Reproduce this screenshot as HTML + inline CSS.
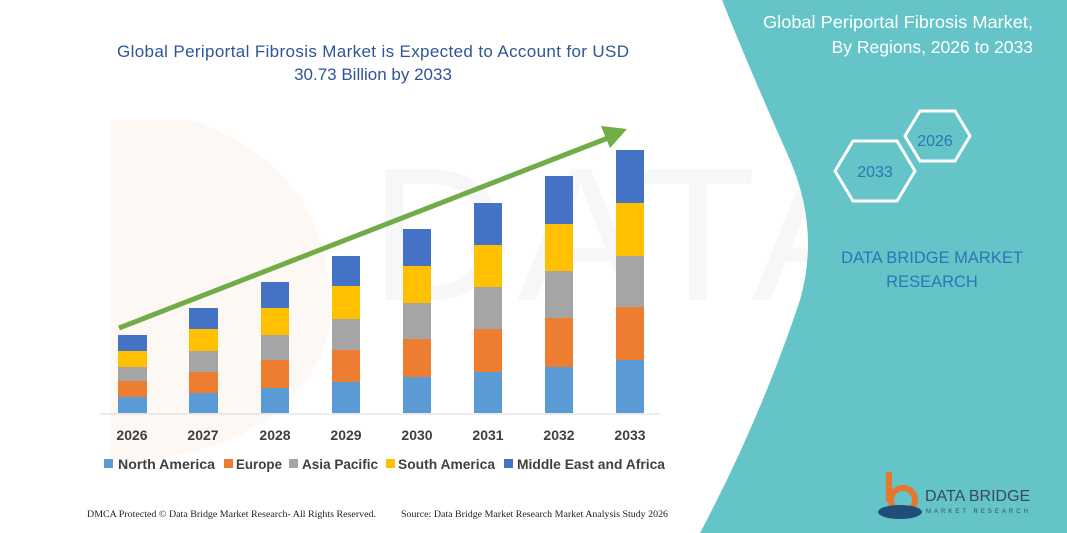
<!DOCTYPE html>
<html><head><meta charset="utf-8"><style>
html,body{margin:0;padding:0;background:#fff}
svg{display:block}
text{font-family:"Liberation Sans",sans-serif}
</style></head><body>
<svg width="1067" height="533" viewBox="0 0 1067 533" xmlns="http://www.w3.org/2000/svg">
<rect width="1067" height="533" fill="#fff"/>
<path d="M110 120 L190 120 Q340 170 330 330 Q300 440 150 460 L110 460 Z" fill="#fdf4ef" opacity="0.6"/>
<text x="370" y="300" font-size="190" fill="#f7f7f7" letter-spacing="10">DATA BRIDGE</text>
<path d="M722 0 L1067 0 L1067 533 L700 533 Q760 420 800 300 Q820 230 790 160 Q750 70 722 0 Z" fill="#64c4c7"/>
<text x="1033" y="28" font-size="17.5" fill="#fff" text-anchor="end" textLength="270" lengthAdjust="spacingAndGlyphs">Global Periportal Fibrosis Market,</text>
<text x="1033" y="53" font-size="17.5" fill="#fff" text-anchor="end">By Regions, 2026 to 2033</text>
<polygon points="835,171 853,141 897,141 915,171 897,201 853,201" fill="none" stroke="#fff" stroke-width="3"/>
<polygon points="905,136 920,111 955,111 970,136 955,161 920,161" fill="none" stroke="#fff" stroke-width="3"/>
<text x="875" y="177" font-size="16" fill="#2e75b6" text-anchor="middle">2033</text>
<text x="935" y="146" font-size="16" fill="#2e75b6" text-anchor="middle">2026</text>
<text x="932" y="263" font-size="16.5" fill="#2e75b6" text-anchor="middle">DATA BRIDGE MARKET</text>
<text x="932" y="287" font-size="16.5" fill="#2e75b6" text-anchor="middle">RESEARCH</text>
<rect x="886" y="472" width="6" height="30" fill="#e8772e"/>
<circle cx="903" cy="500" r="12" fill="none" stroke="#e8772e" stroke-width="6"/>
<ellipse cx="900" cy="512" rx="22" ry="7" fill="#1f4e79"/>
<text x="925" y="501" font-size="16" fill="#3a4a5a">DATA BRIDGE</text>
<text x="926" y="513" font-size="6" fill="#3a4a5a" letter-spacing="3">MARKET RESEARCH</text>
<text x="373" y="57" font-size="17" fill="#2e5597" text-anchor="middle" textLength="512">Global Periportal Fibrosis Market is Expected to Account for USD</text>
<text x="373" y="80" font-size="17" fill="#2e5597" text-anchor="middle">30.73 Billion by 2033</text>
<line x1="100" y1="414" x2="660" y2="414" stroke="#d9d9d9" stroke-width="1"/>
<g>
<rect x="118" y="335" width="29" height="16" fill="#4472c4"/><rect x="118" y="351" width="29" height="16" fill="#ffc000"/><rect x="118" y="367" width="29" height="14" fill="#a5a5a5"/><rect x="118" y="381" width="29" height="16" fill="#ed7d31"/><rect x="118" y="397" width="29" height="16" fill="#5b9bd5"/>
<rect x="189" y="308" width="29" height="21" fill="#4472c4"/><rect x="189" y="329" width="29" height="22" fill="#ffc000"/><rect x="189" y="351" width="29" height="21" fill="#a5a5a5"/><rect x="189" y="372" width="29" height="21" fill="#ed7d31"/><rect x="189" y="393" width="29" height="20" fill="#5b9bd5"/>
<rect x="261" y="282" width="28" height="26" fill="#4472c4"/><rect x="261" y="308" width="28" height="27" fill="#ffc000"/><rect x="261" y="335" width="28" height="25" fill="#a5a5a5"/><rect x="261" y="360" width="28" height="28" fill="#ed7d31"/><rect x="261" y="388" width="28" height="25" fill="#5b9bd5"/>
<rect x="332" y="256" width="28" height="30" fill="#4472c4"/><rect x="332" y="286" width="28" height="33" fill="#ffc000"/><rect x="332" y="319" width="28" height="31" fill="#a5a5a5"/><rect x="332" y="350" width="28" height="32" fill="#ed7d31"/><rect x="332" y="382" width="28" height="31" fill="#5b9bd5"/>
<rect x="403" y="229" width="28" height="37" fill="#4472c4"/><rect x="403" y="266" width="28" height="37" fill="#ffc000"/><rect x="403" y="303" width="28" height="36" fill="#a5a5a5"/><rect x="403" y="339" width="28" height="38" fill="#ed7d31"/><rect x="403" y="377" width="28" height="36" fill="#5b9bd5"/>
<rect x="474" y="203" width="28" height="42" fill="#4472c4"/><rect x="474" y="245" width="28" height="42" fill="#ffc000"/><rect x="474" y="287" width="28" height="42" fill="#a5a5a5"/><rect x="474" y="329" width="28" height="43" fill="#ed7d31"/><rect x="474" y="372" width="28" height="41" fill="#5b9bd5"/>
<rect x="545" y="176" width="28" height="48" fill="#4472c4"/><rect x="545" y="224" width="28" height="47" fill="#ffc000"/><rect x="545" y="271" width="28" height="47" fill="#a5a5a5"/><rect x="545" y="318" width="28" height="49" fill="#ed7d31"/><rect x="545" y="367" width="28" height="46" fill="#5b9bd5"/>
<rect x="616" y="150" width="28" height="53" fill="#4472c4"/><rect x="616" y="203" width="28" height="53" fill="#ffc000"/><rect x="616" y="256" width="28" height="51" fill="#a5a5a5"/><rect x="616" y="307" width="28" height="53" fill="#ed7d31"/><rect x="616" y="360" width="28" height="53" fill="#5b9bd5"/>
</g>
<line x1="119" y1="328" x2="608" y2="138" stroke="#70ad47" stroke-width="5"/>
<polygon points="627,129 601,126 610,148" fill="#70ad47"/>
<g font-size="14" font-weight="bold" fill="#404040" text-anchor="middle">
<text x="132" y="440">2026</text><text x="203" y="440">2027</text><text x="275" y="440">2028</text><text x="346" y="440">2029</text><text x="417" y="440">2030</text><text x="488" y="440">2031</text><text x="559" y="440">2032</text><text x="630" y="440">2033</text>
</g>
<g font-size="14" font-weight="bold" fill="#404040">
<rect x="104" y="459" width="9" height="9" fill="#5b9bd5"/><text x="118" y="469" textLength="97" lengthAdjust="spacingAndGlyphs">North America</text>
<rect x="224" y="459" width="9" height="9" fill="#ed7d31"/><text x="236" y="469" textLength="46" lengthAdjust="spacingAndGlyphs">Europe</text>
<rect x="289" y="459" width="9" height="9" fill="#a5a5a5"/><text x="302" y="469" textLength="76" lengthAdjust="spacingAndGlyphs">Asia Pacific</text>
<rect x="386" y="459" width="9" height="9" fill="#ffc000"/><text x="398" y="469" textLength="97" lengthAdjust="spacingAndGlyphs">South America</text>
<rect x="504" y="459" width="9" height="9" fill="#4472c4"/><text x="517" y="469" textLength="148" lengthAdjust="spacingAndGlyphs">Middle East and Africa</text>
</g>
<g font-size="9.5" fill="#222">
<text x="87" y="517" style="font-family:'Liberation Serif',serif" textLength="289" lengthAdjust="spacingAndGlyphs">DMCA Protected © Data Bridge Market Research-  All Rights Reserved.</text>
<text x="401" y="517" style="font-family:'Liberation Serif',serif" textLength="267" lengthAdjust="spacingAndGlyphs">Source: Data Bridge Market Research  Market Analysis Study 2026</text>
</g>
</svg>
</body></html>
